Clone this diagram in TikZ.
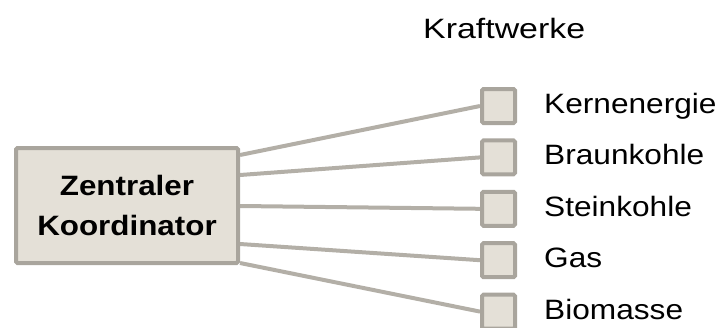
\documentclass[tikz,border=0pt]{standalone}
\usepackage{fontspec}
\setmainfont{Liberation Sans}
\usetikzlibrary{backgrounds}
\definecolor{boxfill}{HTML}{E4E0D7}
\definecolor{boxedge}{HTML}{A9A59D}
\definecolor{linkcol}{HTML}{B3AFA7}
\newcommand{\widetxt}[2][1.12]{\scalebox{#1}[1]{#2}}
\begin{document}
\begin{tikzpicture}[x=1pt,y=-1pt,
  centralbox/.style={draw=boxedge, line width=4pt, fill=boxfill, rounded corners=1.5pt,
    minimum width=222pt, minimum height=115pt, inner sep=0pt, align=center,
    font=\fontsize{28}{40}\selectfont\bfseries},
  plantbox/.style={draw=boxedge, line width=4pt, fill=boxfill, rounded corners=1.5pt,
    minimum width=33pt, minimum height=34pt, inner sep=0pt},
  plantlabel/.style={anchor=base west, inner sep=0pt, font=\fontsize{28}{32}\selectfont},
  link/.style={draw=linkcol, line width=4pt}]
\clip (0,0) rectangle (721,327);

% title of the plant column
\node[plantlabel] (title) at (423,38) {\widetxt[1.21]{Kraftwerke}};

% central coordinator
\node[centralbox] (coord) at (127,205.5) {\widetxt{Zentraler}\\\widetxt{Koordinator}};

% power plants
\foreach \n/\lab [count=\i from 0] in {kern/Kernenergie,braun/Braunkohle,stein/Steinkohle,gas/Gas,bio/Biomasse}{
  \node[plantbox] (\n) at (498.5,106+51.4*\i) {};
  \node[plantlabel] (\n-label) at (544,113.5+51.4*\i) {\widetxt[1.13]{\lab}};
}

% links from the coordinator to each plant
\begin{scope}[on background layer]
  \draw[link] ([yshift=50.5pt]coord.east) -- (kern.west);
  \draw[link] ([yshift=30.5pt]coord.east) -- (braun.west);
  \draw[link] ([yshift=-0.5pt]coord.east) -- (stein.west);
  \draw[link] ([yshift=-38.5pt]coord.east) -- (gas.west);
  \draw[link] ([yshift=-57.5pt]coord.east) -- (bio.west);
\end{scope}
\end{tikzpicture}
\end{document}
